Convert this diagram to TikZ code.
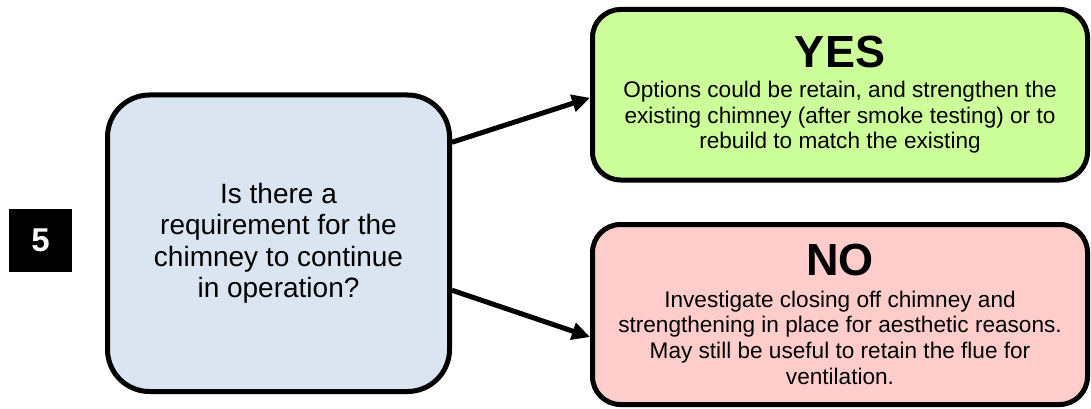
\documentclass[tikz,border=0pt]{standalone}
\usepackage{fontspec}
\setmainfont{Liberation Sans}
\usetikzlibrary{arrows.meta}
\definecolor{askfill}{HTML}{DBE5F1}
\definecolor{yesfill}{HTML}{CCFF99}
\definecolor{nofill}{HTML}{FFCCCC}
\tikzset{
  panel/.style={draw=black, line width=5pt, align=center, inner sep=0pt},
  bodytext/.style={font=\fontsize{22.6}{25.7}\selectfont},
  link/.style={line width=5pt, -{Triangle[length=18pt,width=17pt]}},
}
\newcommand{\heading}[1]{{\fontsize{45}{45}\selectfont\bfseries #1}}
\begin{document}
\begin{tikzpicture}[x=1pt,y=-1pt]
  \useasboundingbox (0,0) rectangle (1091,409);

  % step number
  \node[fill=black, minimum width=63pt, minimum height=63pt, inner sep=0pt,
        text=white, font=\fontsize{33}{33}\selectfont\bfseries]
    (num) at (40.5,240.5) {5};

  % question
  \node[panel, fill=askfill, rounded corners=42pt,
        minimum width=342pt, minimum height=296.5pt,
        font=\fontsize{28}{31.5}\selectfont]
    (ask) at (278.5,243.25)
    {Is there a\\ requirement for the\\ chimney to continue\\ in operation?};

  % answers
  \node[panel, fill=yesfill, rounded corners=28pt,
        minimum width=495pt, minimum height=170.5pt, bodytext]
    (yes) at (840,94.75)
    {\heading{YES}\\[4.5pt]
     Options could be retain, and strengthen the\\
     existing chimney (after smoke testing) or to\\
     rebuild to match the existing};

  \node[panel, fill=nofill, rounded corners=28pt,
        minimum width=495pt, minimum height=180pt, bodytext]
    (no) at (840,314.5)
    {\heading{NO}\\[5.5pt]
     Investigate closing off chimney and\\
     strengthening in place for aesthetic reasons.\\
     May still be useful to retain the flue for\\
     ventilation.};

  % connectors
  \draw[link] ([yshift=101pt]ask.east) -- ([yshift=-3pt]yes.west);
  \draw[link] ([yshift=-47pt]ask.east) -- ([yshift=-22.5pt]no.west);
\end{tikzpicture}
\end{document}
